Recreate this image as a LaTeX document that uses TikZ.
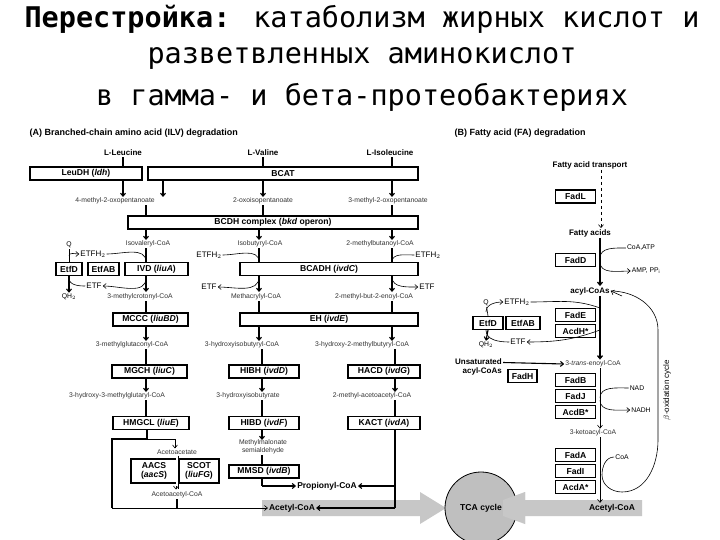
\documentclass[tikz,border=0pt]{standalone}
\usepackage{fontspec}
\setmainfont{Liberation Sans}
\newfontfamily\titlefont{DejaVu Sans Mono}
\usetikzlibrary{arrows.meta}
\begin{document}
\begin{tikzpicture}[x=1pt,y=-1pt,
  enz/.style={draw,line width=1.2pt,fill=white,font=\fontsize{8.6}{9.5}\selectfont\bfseries,minimum height=13pt,inner sep=0pt},
  met/.style={font=\fontsize{6.8}{7.5}\selectfont,text=black!80,inner sep=1pt},
  bmet/.style={font=\fontsize{8}{9}\selectfont\bfseries,inner sep=1pt},
  ln/.style={line width=1.1pt},
  arr/.style={line width=1.1pt,-{Straight Barb[length=3pt,width=5pt]}},
  thn/.style={line width=0.6pt,-{Straight Barb[length=3pt,width=5pt]}},
  tl/.style={line width=0.6pt},
  ttl/.style={font=\titlefont\fontsize{28.5}{30}\selectfont}]
\useasboundingbox (0,0) rectangle (720,540);
\fill[white] (0,0) rectangle (720,540);
% title
\node[ttl] (t1) at (362,19) {\textbf{Перестройка:} катаболизм жирных кислот и};
\node[ttl] (t2) at (362,58) {разветвленных аминокислот};
\node[ttl] (t3) at (362,97) {в гамма- и бета-протеобактериях};
% headers
\node[anchor=west,font=\fontsize{9}{10}\selectfont\bfseries] (ha) at (26,133) {(A) Branched-chain amino acid (ILV) degradation};
\node[anchor=west,font=\fontsize{9}{10}\selectfont\bfseries] (hb) at (451,133) {(B) Fatty acid (FA) degradation};
% ---- panel A
\node[bmet] (leu) at (123,153) {L-Leucine};
\node[bmet] (val) at (263,153) {L-Valine};
\node[bmet] (ile) at (390,153) {L-Isoleucine};
\node[enz,minimum width=112pt] (leudh) at (86,173.5) {LeuDH (\textit{ldh})};
\node[enz,minimum width=270pt] (bcat) at (283,173.5) {BCAT};
\draw[ln] (leu) -- (leu|-leudh.north);
\draw[ln] (val) -- (val|-bcat.north);
\draw[ln] (ile.south-|392,0) -- (392,167);
\node[met] (m4) at (115,201) {4-methyl-2-oxopentanoate};
\node[met] (oxo) at (263,201) {2-oxoisopentanoate};
\node[met] (m3) at (388,201) {3-methyl-2-oxopentanoate};
\draw[arr] (leudh.south-|123,0) -- (123,197);
\draw[arr] (bcat.south-|163,0) -- (163,197);
\draw[arr] (bcat.south-|263,0) -- (263,197);
\draw[arr] (bcat.south-|392,0) -- (392,197);
\node[enz,minimum width=290pt] (bcdh) at (273,222.5) {BCDH complex (\textit{bkd} operon)};
\draw[ln] (m4.south-|146,0) -- (146,216);
\draw[ln] (oxo.south) -- (oxo|-bcdh.north);
\draw[ln] (m3.south-|392,0) -- (392,216);
\node[met] (ivc) at (148,244) {Isovaleryl-CoA};
\node[met] (ibc) at (260,244) {Isobutyryl-CoA};
\node[met] (mbc) at (380,244) {2-methylbutanoyl-CoA};
\draw[arr] (bcdh.south-|146,0) -- (146,240);
\draw[arr] (bcdh.south-|259,0) -- (259,240);
\draw[arr] (bcdh.south-|392,0) -- (392,240);
% ETF system left
\node[enz,minimum width=26pt] (etfd) at (69,269) {EtfD};
\node[enz,minimum width=31pt] (etfab) at (103.5,269) {EtfAB};
\node[enz,minimum width=63pt] (ivd) at (156.5,269) {IVD (\textit{liuA})};
\node[met,text=black,font=\fontsize{6.8}{7}\selectfont] (q1) at (69,245) {Q};
\node[met,text=black,font=\fontsize{8}{8}\selectfont] (eh1) at (93,254) {ETFH$_2$};
\node[met,text=black,font=\fontsize{8}{8}\selectfont] (etf1) at (94,286) {ETF};
\node[met,text=black,font=\fontsize{6.8}{7}\selectfont] (qh1) at (69,297) {QH$_2$};
\node[met] (mcc) at (140,297) {3-methylcrotonyl-CoA};
\draw[ln] (ivc.south-|146,0) -- (ivd.north-|146,0);
\draw[arr] (ivd.south-|146,0) -- (146,292);
\draw[tl] (q1) -- (etfd.north);
\draw[thn] (69,256) to[out=90,in=180] (eh1.west);
\draw[tl] (eh1.east) to[out=0,in=90] (146,262);
\draw[thn] (146,278) to[out=-90,in=0] (etf1.east);
\draw[tl] (etf1.west) to[out=180,in=-90] (69,278);
\draw[arr] (etfd.south) -- (qh1.north);
% BCADH
\node[enz,minimum width=178pt] (bcadh) at (329,269) {BCADH (\textit{ivdC})};
\node[met,text=black,font=\fontsize{8}{8}\selectfont] (eh2) at (209,255) {ETFH$_2$};
\node[met,text=black,font=\fontsize{8}{8}\selectfont] (eh3) at (428,255) {ETFH$_2$};
\node[met,text=black,font=\fontsize{8}{8}\selectfont] (etf2) at (209,287) {ETF};
\node[met,text=black,font=\fontsize{8}{8}\selectfont] (etf3) at (427,287) {ETF};
\node[met] (mac) at (256,297) {Methacrylyl-CoA};
\node[met] (mbe) at (374,297) {2-methyl-but-2-enoyl-CoA};
\draw[ln] (ibc.south-|259,0) -- (bcadh.north-|259,0);
\draw[ln] (mbc.south-|392,0) -- (bcadh.north-|392,0);
\draw[arr] (bcadh.south-|259,0) -- (259,292);
\draw[arr] (bcadh.south-|392,0) -- (392,292);
\draw[tl] (eh2.east) to[out=0,in=90] (259,262);
\draw[tl] (eh3.west) to[out=180,in=90] (392,262);
\draw[thn] (259,277) to[out=-90,in=0] (etf2.east);
\draw[thn] (392,277) to[out=-90,in=180] (etf3.west);
% hydratases
\node[enz,minimum width=75pt] (mccc) at (150.5,319.5) {MCCC (\textit{liuBD})};
\node[enz,minimum width=178pt] (eh) at (329,319.5) {EH (\textit{ivdE})};
\draw[ln] (mcc.south-|146,0) -- (mccc.north-|146,0);
\draw[ln] (mac.south-|259,0) -- (eh.north-|259,0);
\draw[ln] (mbe.south-|392,0) -- (eh.north-|392,0);
\node[met] (mgc) at (132,345) {3-methylglutaconyl-CoA};
\node[met] (hibc) at (242,345) {3-hydroxyisobutyryl-CoA};
\node[met] (hmbc) at (362,345) {3-hydroxy-2-methylbutyryl-CoA};
\draw[arr] (mccc.south-|146,0) -- (146,341);
\draw[arr] (eh.south-|259,0) -- (259,341);
\draw[arr] (eh.south-|392,0) -- (392,341);
\node[enz,minimum width=75pt] (mgch) at (149.5,371.5) {MGCH (\textit{liuC})};
\node[enz,minimum width=70pt] (hibh) at (264,371.5) {HIBH (\textit{ivdD})};
\node[enz,minimum width=72pt] (hacd) at (384,371.5) {HACD (\textit{ivdG})};
\draw[ln] (mgc.south-|146,0) -- (mgch.north-|146,0);
\draw[ln] (hibc.south-|262,0) -- (hibh.north-|262,0);
\draw[ln] (hmbc.south-|395,0) -- (hacd.north-|395,0);
\node[met] (hmg) at (117,396) {3-hydroxy-3-methylglutaryl-CoA};
\node[met] (hib) at (248,396) {3-hydroxyisobutyrate};
\node[met] (mac2) at (372,396) {2-methyl-acetoacetyl-CoA};
\draw[arr] (mgch.south-|146,0) -- (146,392);
\draw[arr] (hibh.south-|262,0) -- (262,392);
\draw[arr] (hacd.south-|395,0) -- (395,392);
\node[enz,minimum width=76pt] (hmgcl) at (151,423) {HMGCL (\textit{liuE})};
\node[enz,minimum width=70pt] (hibd) at (264,423) {HIBD (\textit{ivdF})};
\node[enz,minimum width=72pt] (kact) at (384,423) {KACT (\textit{ivdA})};
\draw[ln] (hmg.south-|146,0) -- (hmgcl.north-|146,0);
\draw[ln] (hib.south-|262,0) -- (hibd.north-|262,0);
\draw[ln] (mac2.south-|395,0) -- (kact.north-|395,0);
\node[met,align=center,font=\fontsize{6.8}{8}\selectfont] (mms) at (263,447) {Methylmalonate\\semialdehyde};
\draw[arr] (hibd.south-|262,0) -- (262,440);
\node[met] (aca) at (177,452) {Acetoacetate};
\node[enz,minimum width=46pt,minimum height=24pt,align=center] (aacs) at (154,471) {AACS\\(\textit{aacS})};
\node[enz,minimum width=40pt,minimum height=24pt,align=center] (scot) at (199,471) {SCOT\\(\textit{liuFG})};
\node[enz,minimum width=70pt] (mmsd) at (264,471.5) {MMSD (\textit{ivdB})};
\node[met] (acac) at (177,495) {Acetoacetyl-CoA};
\node[bmet,font=\fontsize{8.5}{9}\selectfont\bfseries] (prop) at (327,486) {Propionyl-CoA};
% gray arrows
\fill[black!22] (262,500) -- (420,500) -- (420,492) -- (446,508) -- (420,524) -- (420,516) -- (262,516) -- cycle;
\fill[black!22] (642,500) -- (525,500) -- (525,492) -- (503,508) -- (525,524) -- (525,516) -- (642,516) -- cycle;
\node[bmet,font=\fontsize{8.5}{9}\selectfont\bfseries] (acoa) at (292,508) {Acetyl-CoA};
\node[draw,circle,fill=black!25,line width=0.8pt,minimum size=72pt,font=\fontsize{8.6}{9}\selectfont\bfseries] (tca) at (481,508) {TCA cycle};
\fill[black!22] (503,500) -- (525,492) -- (525,524) -- (503,516) -- cycle;
% bottom connectors A
\draw[ln] (hmgcl.south-|147,0) -- (147,439) -- (112,439) -- (112,508);
\draw[thn] (112,508) -- (acoa.west);
\draw[thn] (147,439) -- (175,439) -- (aca.north-|175,0);
\draw[line width=0.5pt,double=white,double distance=2pt] (aca.south) -- (177,489);
\draw[thn] (176,486) -- (176,489.5);
\draw[ln] (acac.south) -- (177,508);
\draw[ln] (mms.south-|262,0) -- (mmsd.north-|262,0);
\draw[ln] (mmsd.south-|262,0) -- (262,486);
\draw[arr] (262,486) -- (prop.west);
\draw[ln] (kact.south-|395,0) -- (395,508);
\draw[arr] (395,486) -- (prop.east);
\draw[arr] (395,508) -- (acoa.east);
% ---- panel B
\node[bmet] (fat) at (590,165) {Fatty acid transport};
\node[enz,minimum width=40pt] (fadl) at (575.5,196.5) {FadL};
\node[bmet] (fa) at (590,233) {Fatty acids};
\draw[thn,dashed] (fat.south-|601,0) -- (fa.north-|601,0);
\node[enz,minimum width=40pt] (fadd) at (575.5,260) {FadD};
\node[met,text=black] (coaatp) at (641,248) {CoA,ATP};
\node[met,text=black] (amp) at (646,271) {AMP, PP$_\mathrm{i}$};
\node[bmet] (acyl) at (590,291) {acyl-CoAs};
\draw[line width=1.3pt,-{Straight Barb[length=3pt,width=5pt]}] (fa.south-|600,0) -- (acyl.north-|600,0);
\draw[tl] (coaatp.west) to[out=180,in=90] (600,258);
\draw[thn] (600,262) to[out=-90,in=180] (amp.west);
\node[enz,minimum width=40pt] (fade) at (575.5,315) {FadE};
\node[enz,minimum width=40pt] (acdh) at (575.5,331) {AcdH*};
\node[met] (enoyl) at (593,364) {3-\textit{trans}-enoyl-CoA};
\draw[line width=1.3pt,-{Straight Barb[length=3pt,width=5pt]}] (acyl.south-|600,0) -- (enoyl.north-|600,0);
\node[enz,minimum width=30pt] (etfd2) at (488,323) {EtfD};
\node[enz,minimum width=34pt] (etfab2) at (523,323) {EtfAB};
\node[met,text=black,font=\fontsize{6.8}{7}\selectfont] (q2) at (486,303) {Q};
\node[met,text=black,font=\fontsize{8}{8}\selectfont] (eh4) at (517,302) {ETFH$_2$};
\node[met,text=black,font=\fontsize{8}{8}\selectfont] (etf4) at (518,342) {ETF};
\node[met,text=black,font=\fontsize{6.8}{7}\selectfont] (qh2) at (486,345) {QH$_2$};
\draw[tl] (q2) -- (etfd2.north);
\draw[thn] (486,312) to[out=90,in=180] (eh4.west);
\draw[tl] (eh4.east) to[out=0,in=160] (600,308);
\draw[thn] (600,330) to[out=-160,in=0] (etf4.east);
\draw[tl] (etf4.west) to[out=180,in=-90] (486,330);
\draw[arr] (etfd2.south) -- (qh2.north);
\node[bmet,align=right,anchor=east] (unsat) at (503,367) {Unsaturated\\acyl-CoAs};
\node[enz,minimum width=29pt] (fadh) at (522.5,376) {FadH};
\draw[arr] (503,362.5) -- (enoyl.west);
\node[enz,minimum width=40pt] (fadb) at (575.5,380) {FadB};
\node[enz,minimum width=40pt] (fadj) at (575.5,396) {FadJ};
\node[enz,minimum width=40pt] (acdb) at (575.5,412) {AcdB*};
\node[met] (keto) at (593,433) {3-ketoacyl-CoA};
\draw[thn] (enoyl.south-|600,0) -- (keto.north-|600,0);
\node[met,text=black] (nad) at (637,388) {NAD};
\node[met,text=black] (nadh) at (641,410) {NADH};
\draw[tl] (nad.west) to[out=180,in=90] (600,398);
\draw[thn] (600,400) to[out=-90,in=180] (nadh.west);
\node[enz,minimum width=40pt] (fada) at (575.5,455) {FadA};
\node[enz,minimum width=40pt] (fadi) at (575.5,471) {FadI};
\node[enz,minimum width=40pt] (acda) at (575.5,487) {AcdA*};
\node[bmet,font=\fontsize{8.5}{9}\selectfont\bfseries] (acoa2) at (612,508) {Acetyl-CoA};
\draw[thn] (keto.south-|600,0) -- (acoa2.north-|600,0);
\node[met,text=black] (coa) at (622,457) {CoA};
\draw[tl] (coa.west) to[out=180,in=90] (602,475) to[out=-90,in=180] (622,492)
  to[out=0,in=-90] (658,440) -- (658,330) to[out=90,in=0] (acyl.east);
\draw[thn] (622,296) -- (acyl.east);
\node[font=\fontsize{8}{8}\selectfont,rotate=90] (boc) at (667,390) {$\beta$-oxidation cycle};
\end{tikzpicture}
\end{document}
